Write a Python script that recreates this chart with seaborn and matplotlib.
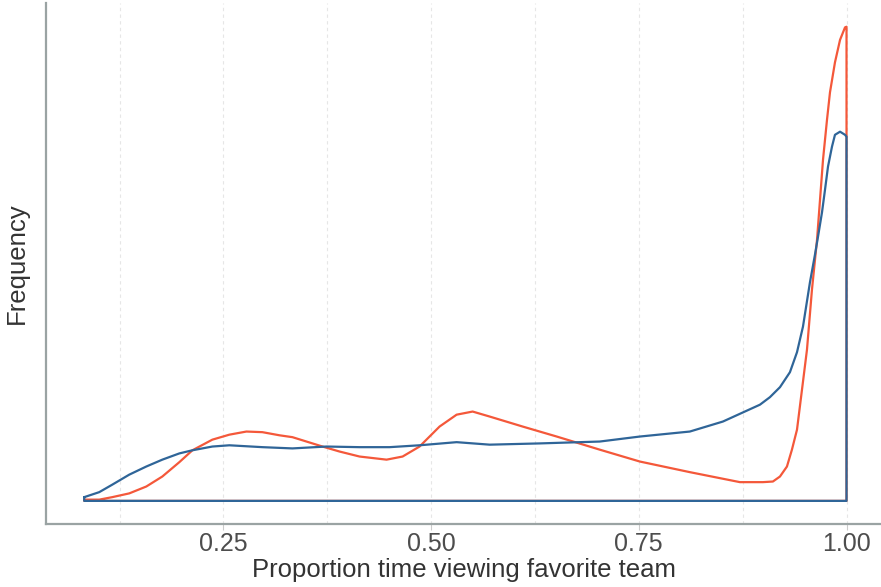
import numpy as np
import pandas as pd
import matplotlib
matplotlib.use("Agg")
import matplotlib.pyplot as plt
import seaborn as sns

# ── Data (density curves) ────────────────────────────────
red_x = [0.0825, 0.1006, 0.1163, 0.1367, 0.1572, 0.1765, 0.1970, 0.2127, 0.2367,
         0.2572, 0.2777, 0.2970, 0.3175, 0.3331, 0.3693, 0.3898, 0.4139, 0.4464,
         0.4657, 0.4861, 0.5102, 0.5307, 0.5500, 0.5705, 0.6102, 0.6512, 0.7030,
         0.7512, 0.8114, 0.8717, 0.8994, 0.9114, 0.9199, 0.9283, 0.9343, 0.9404,
         0.9464, 0.9524, 0.9584, 0.9645, 0.9681, 0.9717, 0.9765, 0.9801, 0.9861,
         0.9922, 0.9982, 1.0]
red_y = [0.02, 0.02, 0.06, 0.12, 0.23, 0.39, 0.62, 0.81, 0.98,
         1.06, 1.11, 1.10, 1.05, 1.02, 0.87, 0.79, 0.71, 0.66,
         0.71, 0.87, 1.19, 1.38, 1.43, 1.35, 1.19, 1.03, 0.82,
         0.63, 0.46, 0.30, 0.30, 0.31, 0.39, 0.55, 0.82, 1.14,
         1.78, 2.42, 3.38, 4.18, 4.82, 5.46, 6.10, 6.54, 7.02,
         7.38, 7.58, 7.59]

blue_x = [0.0825, 0.1006, 0.1163, 0.1367, 0.1572, 0.1765, 0.1970, 0.2127, 0.2367,
          0.2572, 0.2970, 0.3331, 0.3741, 0.4139, 0.4500, 0.4861, 0.5307, 0.5705,
          0.6307, 0.7030, 0.7512, 0.8114, 0.8512, 0.8958, 0.9078, 0.9199, 0.9319,
          0.9404, 0.9476, 0.9560, 0.9620, 0.9657, 0.9705, 0.9741, 0.9777, 0.9825,
          0.9861, 0.9922, 0.9982, 1.0]
blue_y = [0.06, 0.14, 0.26, 0.42, 0.55, 0.66, 0.76, 0.81, 0.87,
          0.89, 0.86, 0.84, 0.87, 0.86, 0.86, 0.89, 0.94, 0.90,
          0.92, 0.95, 1.03, 1.11, 1.27, 1.54, 1.66, 1.82, 2.06,
          2.38, 2.79, 3.50, 3.94, 4.23, 4.62, 4.98, 5.35, 5.67,
          5.86, 5.91, 5.86, 5.83]

x_ticks = [0.25, 0.50, 0.75, 1.00]
x_tick_labels = ["0.25", "0.50", "0.75", "1.00"]

RED = "#F4583A"
BLUE = "#2F6598"

# ── Style ────────────────────────────────────────────────
sns.set_theme(style="white")
plt.rcParams["font.family"] = ["Liberation Sans", "DejaVu Sans"]


def closed(xs, ys):
    # density outline closed down to the baseline, like geom_density
    xs = list(xs) + [xs[-1], xs[0], xs[0]]
    ys = list(ys) + [0.0, 0.0, ys[0]]
    return pd.DataFrame({"x": xs, "y": ys})


fig = plt.figure(figsize=(8.81, 5.87), dpi=100)
ax = fig.add_axes([46 / 881, 63 / 587, 1 - 46 / 881, 521 / 587])

for xs, ys, col in [(red_x, red_y, RED), (blue_x, blue_y, BLUE)]:
    sns.lineplot(data=closed(xs, ys), x="x", y="y", sort=False, estimator=None,
                 color=col, linewidth=1.6, ax=ax)

ax.set_xlim(0.0365, 1.0415)
ax.set_ylim(-0.37, 7.97)

# vertical dashed grid, major + minor
for gx in np.arange(0.125, 1.01, 0.125):
    ax.axvline(gx, color="#E6E6E6", linestyle=(0, (3, 3)), linewidth=0.8, zorder=0)

ax.set_xticks(x_ticks)
ax.set_xticklabels(x_tick_labels, fontsize=18, color="#4D4D4D")
ax.set_yticks([])
ax.tick_params(axis="x", length=4, width=0.8, color="#CCCCCC", pad=2, bottom=True)

ax.set_xlabel("Proportion time viewing favorite team", fontsize=18.5, color="#333333", labelpad=1)
ax.set_ylabel("Frequency", fontsize=18.5, color="#333333", labelpad=12)

for side in ["top", "right"]:
    ax.spines[side].set_visible(False)
for side in ["left", "bottom"]:
    ax.spines[side].set_color("#9AA3A3")
    ax.spines[side].set_linewidth(1.6)

plt.savefig("out.png", dpi=100)
plt.close()
